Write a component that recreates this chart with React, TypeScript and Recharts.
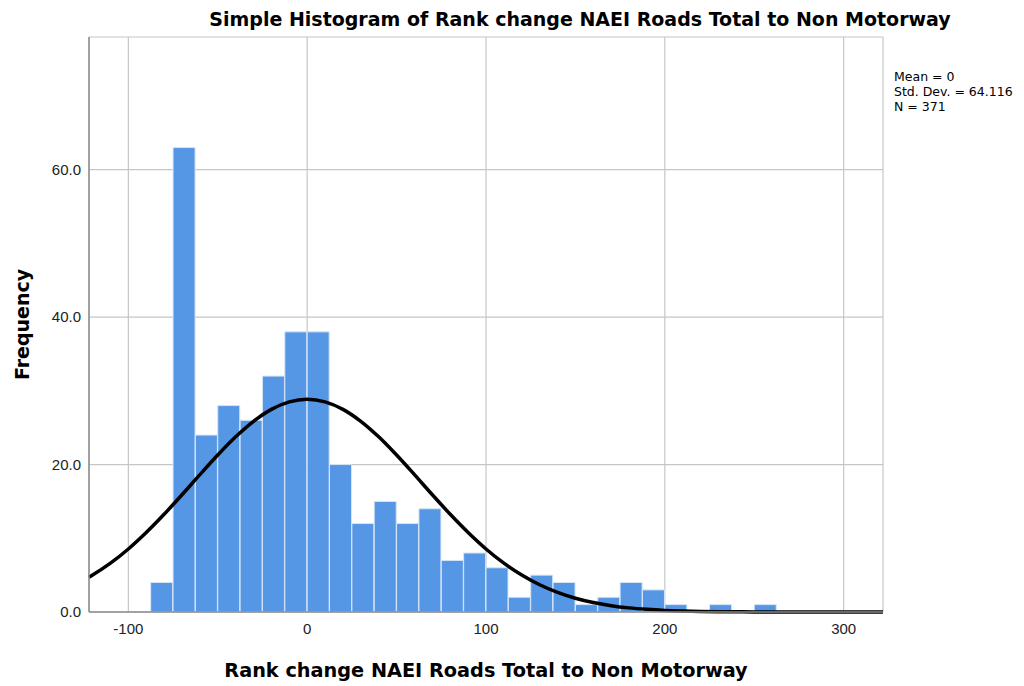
import { ComposedChart, Bar, Line, XAxis, YAxis, CartesianGrid } from "recharts";

// histogram bins (midpoints, width 12.5) and their frequencies
const binMids = [
  -81.25, -68.75, -56.25, -43.75, -31.25, -18.75, -6.25, 6.25, 18.75, 31.25,
  43.75, 56.25, 68.75, 81.25, 93.75, 106.25, 118.75, 131.25, 143.75, 156.25,
  168.75, 181.25, 193.75, 206.25, 218.75, 231.25, 243.75, 256.25,
];
const binCounts = [
  4, 63, 24, 28, 26, 32, 38, 38, 20, 12, 15, 12, 14, 7, 8, 6, 2, 5, 4, 1, 2, 4,
  3, 1, 0, 1, 0, 1,
];

// normal curve
const curveX = [
  -122, -120, -110, -100, -90, -80, -70, -60, -50, -40, -30, -20, -10, 0, 10,
  20, 30, 40, 50, 60, 70, 80, 90, 100, 110, 120, 130, 140, 150, 160, 170, 180,
  190, 200, 210, 220, 230, 240, 250, 260, 270, 280, 290, 300, 310, 320, 322,
];
const curveY = [
  4.72, 5.01, 6.62, 8.55, 10.78, 13.25, 15.9, 18.63, 21.29, 23.76, 25.87, 27.49,
  28.51, 28.86, 28.51, 27.49, 25.87, 23.76, 21.29, 18.63, 15.9, 13.25, 10.78,
  8.55, 6.62, 5.01, 3.69, 2.66, 1.87, 1.28, 0.86, 0.56, 0.36, 0.22, 0.14, 0.08,
  0.05, 0.03, 0.01, 0, 0, 0, 0, 0, 0, 0, 0,
];

const xTicks = [-100, 0, 100, 200, 300];
const yTicks = [0, 20, 40, 60];
const stats = ["Mean = 0", "Std. Dev. = 64.116", "N = 371"];

const bins = binMids.map((mid, i) => ({ mid, count: binCounts[i] }));
const curve = curveX.map((x, i) => ({ x, y: curveY[i] }));

const tickStyle = { fontFamily: "Liberation Sans, Arial", fontSize: 15, fill: "#222" };
const labelStyle = {
  fontFamily: "DejaVu Sans",
  fontWeight: "bold",
  fontSize: 19,
  fill: "#000",
};

export default function App() {
  return (
    <div style={{ position: "absolute", left: 0, top: 0, width: 1024, height: 686, background: "#fff" }}>
      <div
        style={{
          position: "absolute",
          left: 580,
          top: 10,
          transform: "translateX(-50%)",
          whiteSpace: "nowrap",
          fontFamily: "DejaVu Sans",
          fontWeight: "bold",
          fontSize: 19,
          lineHeight: "19px",
        }}
      >
        Simple Histogram of Rank change NAEI Roads Total to Non Motorway
      </div>
      <div
        style={{
          position: "absolute",
          left: 894,
          top: 69,
          fontFamily: "DejaVu Sans",
          fontSize: 12.5,
          lineHeight: "15px",
          whiteSpace: "nowrap",
        }}
      >
        {stats.map((s) => (
          <div key={s}>{s}</div>
        ))}
      </div>
      <ComposedChart
        width={1024}
        height={686}
        data={bins}
        margin={{ top: 37, right: 141, bottom: 30, left: 0 }}
        barCategoryGap={0}
        barGap={0}
      >
        <CartesianGrid stroke="#c6c6c6" strokeWidth={1.2} />
        <XAxis
          dataKey="mid"
          type="number"
          domain={[-122, 322]}
          ticks={xTicks}
          height={44}
          tickLine={false}
          tickMargin={5}
          axisLine={{ stroke: "#8c8c8c", strokeWidth: 1.5 }}
          tick={tickStyle}
          label={{
            value: "Rank change NAEI Roads Total to Non Motorway",
            position: "bottom",
            offset: 7,
            style: { ...labelStyle, fontSize: 19.3 },
          }}
        />
        <XAxis
          xAxisId="curve"
          dataKey="x"
          type="number"
          domain={[-122, 322]}
          hide
        />
        <YAxis
          type="number"
          domain={[0, 78]}
          ticks={yTicks}
          width={89}
          tickLine={false}
          tickFormatter={(v: number) => v.toFixed(1)}
          axisLine={{ stroke: "#8c8c8c", strokeWidth: 1.5 }}
          tick={tickStyle}
          label={{
            value: "Frequency",
            angle: -90,
            position: "insideLeft",
            offset: 22,
            style: { ...labelStyle, textAnchor: "middle" },
          }}
        />
        <Bar
          dataKey="count"
          fill="#5596e5"
          stroke="#d5e5f8"
          strokeWidth={1}
          isAnimationActive={false}
        />
        <Line
          xAxisId="curve"
          data={curve}
          dataKey="y"
          type="monotone"
          stroke="#000"
          strokeWidth={3.5}
          dot={false}
          activeDot={false}
          isAnimationActive={false}
        />
      </ComposedChart>
    </div>
  );
}
